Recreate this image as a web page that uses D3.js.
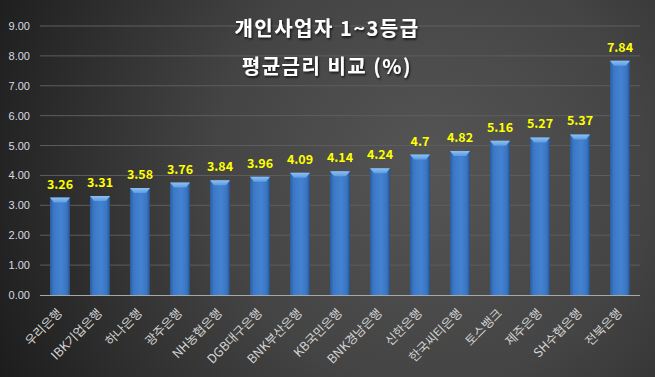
<!DOCTYPE html>
<html>
<head>
<meta charset="utf-8">
<script src="https://cdn.jsdelivr.net/npm/d3@7"></script>
<style>
  html, body { margin: 0; padding: 0; background: #2a2a2a; }
  #chart { width: 655px; height: 377px; }
</style>
</head>
<body>
<div id="chart"></div>
<script>
// bank names, rate values and axis ticks
const banks = ["우리은행", "IBK기업은행", "하나은행", "광주은행", "NH농협은행", "DGB대구은행", "BNK부산은행",
  "KB국민은행", "BNK경남은행", "신한은행", "한국씨티은행", "토스뱅크", "제주은행", "SH수협은행", "전북은행"];
const rates = [3.26, 3.31, 3.58, 3.76, 3.84, 3.96, 4.09, 4.14, 4.24, 4.7, 4.82, 5.16, 5.27, 5.37, 7.84];
const yTicks = [0, 1, 2, 3, 4, 5, 6, 7, 8, 9];
const titleLines = ["개인사업자 1~3등급", "평균금리 비교 (%)"];

const W = 655, H = 377;
const margin = { left: 40, right: 15, top: 26, bottom: 82 };

const svg = d3.select("#chart").append("svg")
  .attr("width", W)
  .attr("height", H);

const defs = svg.append("defs");

// dark radial background
const bg = defs.append("radialGradient")
  .attr("id", "bg")
  .attr("gradientUnits", "userSpaceOnUse")
  .attr("cx", 430).attr("cy", 170).attr("r", 480);
bg.append("stop").attr("offset", "0%").attr("stop-color", "#555555");
bg.append("stop").attr("offset", "45%").attr("stop-color", "#444444");
bg.append("stop").attr("offset", "100%").attr("stop-color", "#1c1c1c");

// bar body, darker at the sides
const barGrad = defs.append("linearGradient")
  .attr("id", "bar").attr("x1", "0%").attr("x2", "100%").attr("y1", "0%").attr("y2", "0%");
barGrad.append("stop").attr("offset", "0%").attr("stop-color", "#2b5d9e");
barGrad.append("stop").attr("offset", "18%").attr("stop-color", "#3b77c4");
barGrad.append("stop").attr("offset", "55%").attr("stop-color", "#4483d2");
barGrad.append("stop").attr("offset", "85%").attr("stop-color", "#3a74bf");
barGrad.append("stop").attr("offset", "100%").attr("stop-color", "#24508a");

const capGrad = defs.append("linearGradient")
  .attr("id", "cap").attr("x1", "0%").attr("x2", "0%").attr("y1", "0%").attr("y2", "100%");
capGrad.append("stop").attr("offset", "0%").attr("stop-color", "#8fc0f2");
capGrad.append("stop").attr("offset", "100%").attr("stop-color", "#5d9be0");

const shadow = defs.append("filter").attr("id", "ts")
  .attr("x", "-10%").attr("y", "-30%").attr("width", "130%").attr("height", "160%");
shadow.append("feDropShadow")
  .attr("dx", 1).attr("dy", 1.5).attr("stdDeviation", 0.8)
  .attr("flood-color", "#000").attr("flood-opacity", 0.8);

svg.append("rect").attr("width", W).attr("height", H).attr("fill", "url(#bg)");

const x = d3.scaleBand()
  .domain(banks)
  .range([margin.left, W - margin.right])
  .paddingInner(0.5)
  .paddingOuter(0.25);

const y = d3.scaleLinear()
  .domain([0, 9])
  .range([H - margin.bottom, margin.top]);

// gridlines
svg.append("g")
  .selectAll("line")
  .data(yTicks.filter(d => d > 0))
  .join("line")
  .attr("x1", margin.left)
  .attr("x2", W - margin.right)
  .attr("y1", d => y(d))
  .attr("y2", d => y(d))
  .attr("stroke", "#5e5e5e")
  .attr("stroke-width", 1);

// y axis labels
const yAxis = svg.append("g")
  .attr("transform", `translate(${margin.left},0)`)
  .call(d3.axisLeft(y).tickValues(yTicks).tickFormat(d3.format(".2f")).tickSize(0).tickPadding(10));
yAxis.select(".domain").remove();
yAxis.selectAll("text")
  .attr("fill", "#d6dbe4")
  .style("font-family", "'Liberation Sans', Arial, sans-serif")
  .style("font-size", "11px");

// bars
const bars = svg.append("g");
bars.selectAll("rect.body")
  .data(rates)
  .join("rect")
  .attr("class", "body")
  .attr("x", (d, i) => x(banks[i]))
  .attr("y", d => y(d))
  .attr("width", x.bandwidth())
  .attr("height", d => y(0) - y(d))
  .attr("fill", "url(#bar)");

// small bevelled top cap
bars.selectAll("path.cap")
  .data(rates)
  .join("path")
  .attr("class", "cap")
  .attr("d", (d, i) => {
    const x0 = x(banks[i]), w = x.bandwidth(), t = y(d);
    return `M${x0},${t} L${x0 + w},${t} L${x0 + w - 4},${t + 5} L${x0 + 4},${t + 5} Z`;
  })
  .attr("fill", "url(#cap)");

// x axis line
svg.append("line")
  .attr("x1", margin.left)
  .attr("x2", W - margin.right)
  .attr("y1", y(0) + 0.5)
  .attr("y2", y(0) + 0.5)
  .attr("stroke", "#a8a8a8")
  .attr("stroke-width", 1);

// value labels
svg.append("g")
  .selectAll("text")
  .data(rates)
  .join("text")
  .attr("x", (d, i) => x(banks[i]) + x.bandwidth() / 2)
  .attr("y", d => y(d) - 9)
  .attr("text-anchor", "middle")
  .attr("fill", "#ffff00")
  .style("font-family", "'Noto Sans CJK KR', sans-serif")
  .style("font-weight", "bold")
  .style("font-size", "12.5px")
  .text(d => d);

// category labels, slanted
svg.append("g")
  .selectAll("text")
  .data(banks)
  .join("text")
  .attr("transform", d => `translate(${x(d) + x.bandwidth() / 2 + 3},${y(0) + 19}) rotate(-45)`)
  .attr("text-anchor", "end")
  .attr("fill", "#d4d4d4")
  .style("font-family", "'Noto Sans CJK KR', sans-serif")
  .style("font-size", "12.5px")
  .text(d => d);

// title
svg.append("g")
  .selectAll("text")
  .data(titleLines)
  .join("text")
  .attr("x", 327)
  .attr("y", (d, i) => 36 + i * 38)
  .attr("text-anchor", "middle")
  .attr("fill", "#ffffff")
  .attr("filter", "url(#ts)")
  .style("font-family", "'Noto Sans CJK KR', sans-serif")
  .style("font-weight", "bold")
  .style("font-size", "20px")
  .style("letter-spacing", "1.5px")
  .text(d => d);
</script>
</body>
</html>
